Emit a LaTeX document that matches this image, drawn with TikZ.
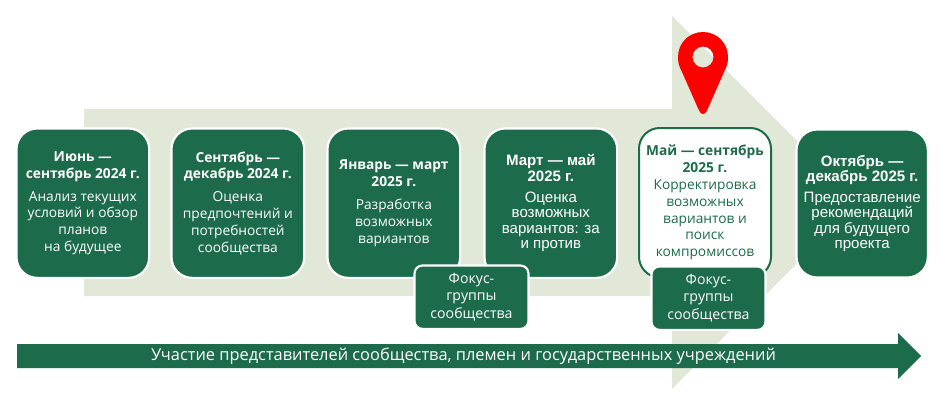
\documentclass[tikz,border=0pt]{standalone}
\usepackage{fontspec}
\setmainfont{Open Sans}
\newfontfamily\arialfont{Liberation Sans}
\definecolor{dkgreen}{HTML}{1C6B4A}
\definecolor{ltgreen}{HTML}{E1E8D7}
\definecolor{pinred}{HTML}{FF0000}
\tikzset{
  x=0.75pt,y=-0.75pt,
  phasebox/.style={rounded corners=15.5pt,line width=1.6pt,draw=white,fill=dkgreen,text=white,anchor=north west,inner sep=0pt,outer sep=0pt,align=center,font=\fontsize{10.3pt}{12.6pt}\selectfont},
  focusbox/.style={rounded corners=6pt,line width=1.6pt,draw=white,fill=dkgreen,text=white,anchor=north west,inner sep=0pt,outer sep=0pt,align=center,font=\fontsize{10.6pt}{13.4pt}\selectfont},
  currentbox/.style={phasebox,draw=dkgreen,fill=white,text=dkgreen},
  arialbox/.style={phasebox,font=\arialfont\fontsize{11.3pt}{11.6pt}\selectfont},
}
\begin{document}
\begin{tikzpicture}
\useasboundingbox (0,0) rectangle (945,405);
\fill[ltgreen] (84,109) -- (672,109) -- (672,16) -- (858,202) -- (672,389) -- (672,296) -- (84,296) -- cycle;
\fill[pinred,even odd rule] (703,114) .. controls (700,114) and (699,110) .. (697,106)
  -- (682,72) .. controls (679,66) and (678,63) .. (678,57)
  .. controls (678,43) and (689,32) .. (703,32)
  .. controls (717,32) and (728,43) .. (728,57)
  .. controls (728,63) and (727,66) .. (724,72)
  -- (709,106) .. controls (707,110) and (706,114) .. (703,114) -- cycle
  (703,57) circle[radius=10.5];
\node[phasebox,minimum width=99.5pt,minimum height=112pt] (p1) at (16.5,128.5) {\bfseries Июнь —\\\bfseries сентябрь 2024 г.\\[4.5pt]Анализ текущих\\условий и обзор\\планов\\на будущее};
\node[phasebox,minimum width=99.5pt,minimum height=112pt] (p2) at (171.5,128.5) {\bfseries Сентябрь —\\\bfseries декабрь 2024 г.\\[4.5pt]Оценка\\предпочтений и\\потребностей\\сообщества};
\node[phasebox,minimum width=99.5pt,minimum height=112pt] (p3) at (327.5,128.5) {\bfseries Январь — март\\\bfseries 2025 г.\\[4.5pt]Разработка\\возможных\\вариантов};
\node[arialbox,minimum width=99.5pt,minimum height=112pt] (p4) at (484.5,128.5) {\bfseries Март — май\\\bfseries 2025 г.\\[4pt]Оценка\\возможных\\вариантов: за\\и против};
\node[currentbox,line width=1.5pt,minimum width=99pt,minimum height=112pt] (p5) at (639,128) {\bfseries Май — сентябрь\\\bfseries 2025 г.\\Корректировка\\возможных\\вариантов и\\поиск\\компромиссов};
\node[arialbox,minimum width=98.5pt,minimum height=111pt] (p6) at (796.5,129.5) {\bfseries Октябрь —\\\bfseries декабрь 2025 г.\\[4pt]Предоставление\\рекомендаций\\для будущего\\проекта};
\node[focusbox,minimum width=85.5pt,minimum height=47.5pt] (f1) at (414.5,265.5) {Фокус-\\группы\\сообщества};
\node[focusbox,minimum width=85.5pt,minimum height=47.5pt] (f2) at (651.5,266.5) {Фокус-\\группы\\сообщества};
\fill[dkgreen] (17,344) -- (898,344) -- (898,333) -- (921,356) -- (898,379) -- (898,368) -- (17,368) -- cycle;
\node[text=white,font=\fontsize{12.3pt}{14pt}\selectfont] (band) at (463.5,356) {Участие представителей сообщества, племен и государственных учреждений};
\end{tikzpicture}
\end{document}
